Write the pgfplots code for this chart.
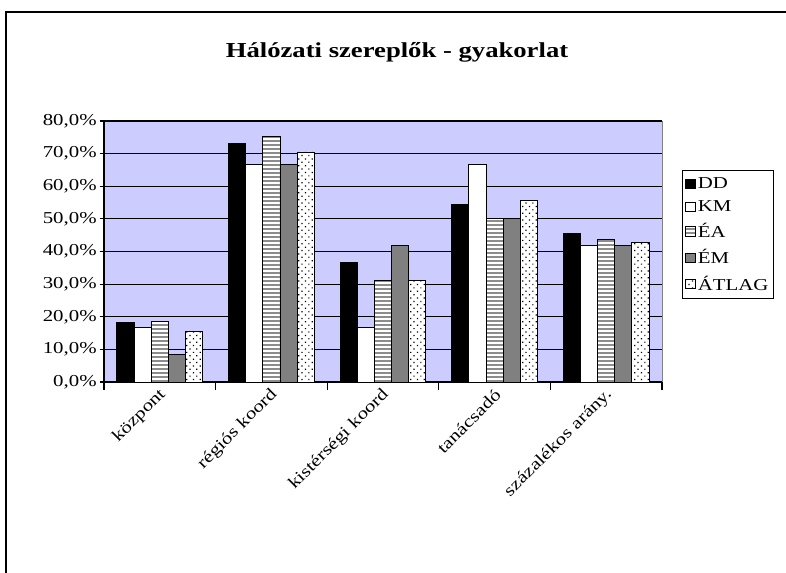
\documentclass[border=0pt]{standalone}
\usepackage{fontspec}
\setmainfont{Liberation Serif}[FakeStretch=1.25]
\usepackage{pgfplots}
\pgfplotsset{compat=1.18}
\usetikzlibrary{patterns.meta}
\definecolor{plotbg}{RGB}{204,204,255}
\definecolor{emgray}{RGB}{128,128,128}
\definecolor{stripe}{RGB}{140,140,140}
\begin{document}
\begin{tikzpicture}
\path[use as bounding box] (0pt,0pt) rectangle (589.5pt,429.75pt);
\draw[line width=1.3pt] (4.5pt,-1pt) -- (4.5pt,420.75pt) -- (590pt,420.75pt);
\node[font=\bfseries\fontsize{16}{18}\selectfont] at (297.75pt,390.75pt) {Hálózati szereplők - gyakorlat};
\begin{axis}[
  at={(78pt,143.25pt)}, anchor=south west,
  width=418.5pt, height=195.75pt, scale only axis,
  xmin=-0.5, xmax=4.5, ymin=0, ymax=80,
  ybar=0pt, bar width=0.1538,
  every axis plot/.append style={line width=0.7pt, draw=black,
    legend image code/.code={\draw[#1,line width=0.5pt] (0pt,-3.5pt) rectangle (7pt,3.5pt);}},
  axis background/.style={fill=plotbg, draw=gray},
  axis x line*=bottom, axis y line*=left,
  axis line style={-, line width=0.8pt},
  ymajorgrids, grid style={black, line width=0.8pt},
  ytick={0,10,...,80},
  yticklabel={\pgfmathprintnumber[fixed,fixed zerofill,precision=1,use comma]{\tick}\%},
  /pgf/number format/assume math mode=true,
  xtick={0,...,4},
  xticklabels={központ, régiós koord, kistérségi koord, tanácsadó, százalékos arány.},
  every major x tick/.style={draw=none},
  minor xtick={-0.5,0.5,...,4.5},
  tick align=outside, major tick length=3pt, minor tick length=6pt,
  tick style={black, line width=0.8pt},
  ticklabel style={font=\fontsize{12.5}{14}\selectfont},
  yticklabel style={xshift=1pt},
  xticklabel style={rotate=45, anchor=east, yshift=-5pt, xshift=2pt},
  legend style={at={(1.036,0.812)}, anchor=north west, draw=black, line width=0.8pt,
    font=\fontsize{12.5}{14}\selectfont, row sep=3.5pt, inner xsep=2pt, inner ysep=3pt,
    cells={anchor=west}},
  legend cell align=left,
]
\addplot[fill=black] coordinates {(0,18.2) (1,73.0) (2,36.6) (3,54.5) (4,45.5)};
\addplot[fill=white] coordinates {(0,16.7) (1,66.6) (2,16.7) (3,66.8) (4,41.7)};
\addplot[fill=white, postaction={pattern={Lines[angle=0,distance=3pt,line width=1.4pt]}, pattern color=stripe}] coordinates {(0,18.6) (1,75.2) (2,31.0) (3,50.2) (4,43.6)};
\addplot[fill=emgray] coordinates {(0,8.3) (1,66.8) (2,41.8) (3,50.2) (4,41.7)};
\addplot[fill=white, postaction={pattern={Dots[angle=45,distance=3.6pt,radius=0.65pt]}, pattern color=black}] coordinates {(0,15.6) (1,70.5) (2,31.0) (3,55.5) (4,42.9)};
\legend{DD, KM, ÉA, ÉM, ÁTLAG}
\end{axis}
\end{tikzpicture}
\end{document}
